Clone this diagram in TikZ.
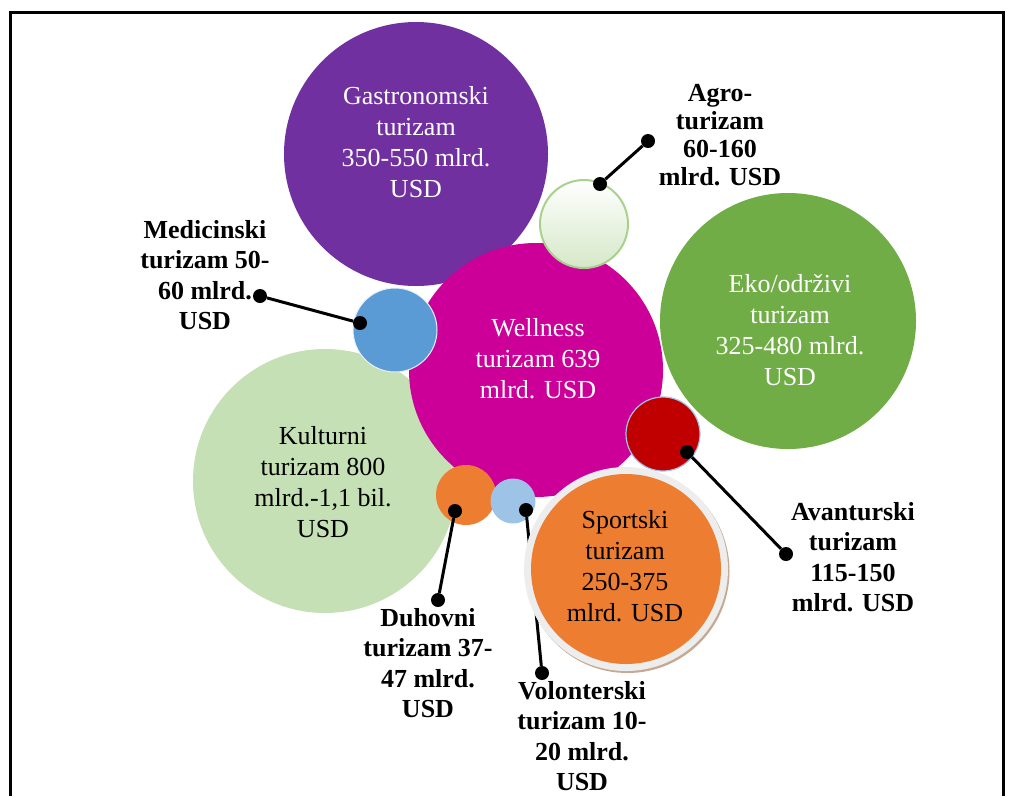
\documentclass[tikz,border=0pt]{standalone}
\usepackage{fontspec}
\setmainfont{Liberation Serif}
\usetikzlibrary{positioning}
\definecolor{gastrocol}{HTML}{7030A0}
\definecolor{wellcol}{HTML}{CC0099}
\definecolor{ekocol}{HTML}{70AD47}
\definecolor{kultcol}{HTML}{C5E0B4}
\definecolor{medcol}{HTML}{5B9BD5}
\definecolor{volcol}{HTML}{9DC3E6}
\definecolor{orangecol}{HTML}{ED7D31}
\definecolor{avancol}{HTML}{C00000}
\definecolor{agroedge}{HTML}{A9D18E}
\definecolor{agrofill}{HTML}{D5E8C8}
\definecolor{ringcol}{HTML}{EDEDED}
\definecolor{shadowcol}{HTML}{C8A890}
\tikzstyle{bubble} = [circle, inner sep=0pt, draw=none]
\tikzstyle{bubbletext} = [align=center, font=\fontsize{26}{31}\selectfont]
\tikzstyle{callout} = [align=center, font=\fontsize{26}{30.5}\selectfont\bfseries]
\tikzstyle{pin} = [circle, fill=black, inner sep=0pt, minimum size=14pt]
\tikzstyle{leader} = [line width=3pt, black]

\begin{document}
\begin{tikzpicture}[x=1pt, y=-1pt]
    \useasboundingbox (0,0) rectangle (1014,796);
    % frame, open at the bottom
    \draw [line width=3pt] (10,796) -- (10,12) -- (1003,12) -- (1003,796);

    % big bubbles
    \node (gastro) [bubble, fill=gastrocol, minimum size=264pt] at (416,154) {};
    \node (eko) [bubble, fill=ekocol, minimum size=256pt] at (788,321) {};
    \node (kult) [bubble, fill=kultcol, minimum size=264pt] at (325,481) {};
    \node (well) [bubble, fill=wellcol, minimum size=254pt] at (536,370) {};

    % small bubbles
    \node (med) [bubble, fill=medcol, draw=white!85!medcol, line width=1pt, minimum size=84pt] at (395,330) {};
    \node (agro) [bubble, top color=white, bottom color=agrofill, draw=agroedge, line width=2pt, minimum size=88pt] at (584,224) {};
    \node (duh) [bubble, fill=orangecol, minimum size=60pt] at (466,495) {};
    \node (vol) [bubble, fill=volcol, minimum size=45pt] at (513,501) {};
    \node (avan) [bubble, fill=avancol, draw=volcol, line width=1.2pt, minimum size=74pt] at (663,434) {};

    % pins and leaders
    \node (agroA) [pin] at (600,184) {};
    \node (agroB) [pin] at (648,141) {};
    \node (medA) [pin] at (360,323) {};
    \node (medB) [pin] at (260,296) {};
    \node (avanA) [pin] at (687,452) {};
    \node (avanB) [pin] at (786,554) {};
    \node (duhA) [pin] at (455,511) {};
    \node (duhB) [pin] at (438,600) {};
    \node (volA) [pin] at (526,510) {};
    \node (volB) [pin] at (542,673) {};
    \draw [leader] (agroA) -- (agroB);
    \draw [leader] (medA) -- (medB);
    \draw [leader] (avanA) -- (avanB);
    \draw [leader] (duhA) -- (duhB);
    \draw [leader] (volA) -- (volB);

    % sport bubble with ring, over the leader
    \node (sportshadow) [bubble, fill=shadowcol, minimum size=204pt] at (627.5,571) {};
    \node (sportring) [bubble, fill=ringcol, minimum size=204pt] at (626,569) {};
    \node (sport) [bubble, fill=orangecol, minimum size=190pt] at (626,569) {};

    % texts in bubbles
    \node (gastroT) [bubbletext, text=white] at (416,142) {Gastronomski\\turizam\\350-550 mlrd.\\USD};
    \node (ekoT) [bubbletext, text=white] at (790,330) {Eko/održivi\\turizam\\325-480 mlrd.\\USD};
    \node (wellT) [bubbletext, text=white] at (538,359) {Wellness\\turizam 639\\mlrd. USD};
    \node (kultT) [bubbletext] at (323,482) {Kulturni\\turizam 800\\mlrd.-1,1 bil.\\USD};
    \node (sportT) [bubbletext] at (625,566) {Sportski\\turizam\\250-375\\mlrd. USD};

    % callouts
    \node (agroL) [callout, font=\fontsize{26}{28}\selectfont\bfseries] at (720,135) {Agro-\\turizam\\60-160\\mlrd. USD};
    \node (medL) [callout] at (205,275) {Medicinski\\turizam 50-\\60 mlrd.\\USD};
    \node (avanL) [callout] at (853,557) {Avanturski\\turizam\\115-150\\mlrd. USD};
    \node (duhL) [callout] at (428,663) {Duhovni\\turizam 37-\\47 mlrd.\\USD};
    \node (volL) [callout] at (582,736) {Volonterski\\turizam 10-\\20 mlrd.\\USD};
\end{tikzpicture}
\end{document}
